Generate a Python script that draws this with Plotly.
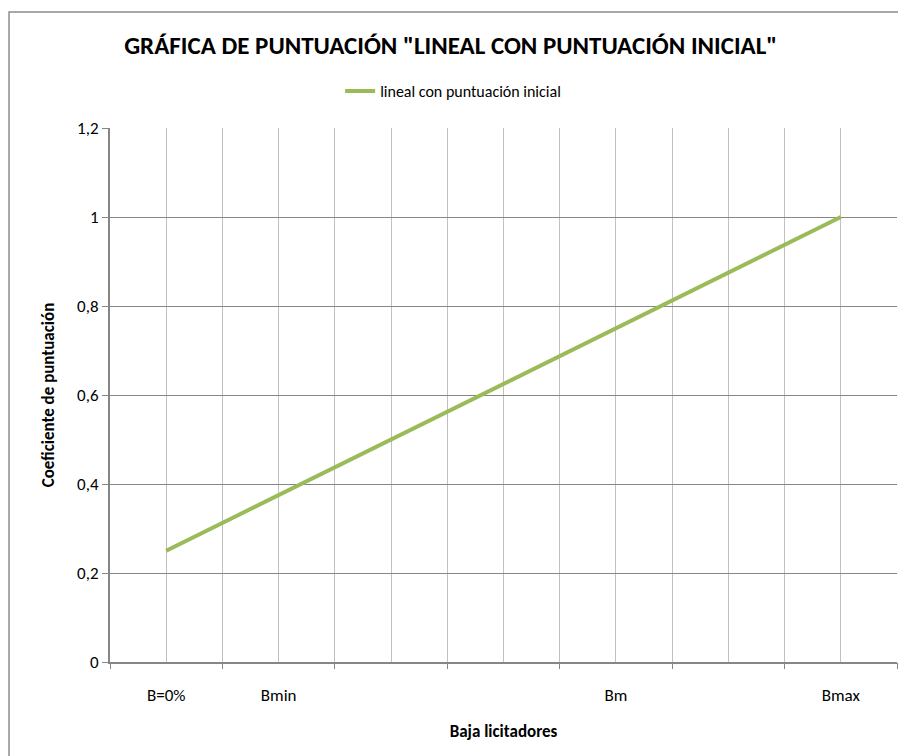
import plotly.graph_objects as go

# categorías del eje X (solo algunas con etiqueta)
categorias = ["B=0%", "", "Bmin", "", "", "", "", "", "Bm", "", "", "", "Bmax"]
coeficiente = [0.25, 0.3125, 0.375, 0.4375, 0.5, 0.5625, 0.625, 0.6875, 0.75, 0.8125, 0.875, 0.9375, 1.0]
y_ticks = [0, 0.2, 0.4, 0.6, 0.8, 1.0, 1.2]

font_main = "Carlito, Calibri, Lato, sans-serif"
pos = list(range(len(categorias)))

fig = go.Figure()
fig.add_trace(go.Scatter(x=pos, y=coeficiente, mode="lines", name="lineal con puntuación inicial",
                         line=dict(color="#9BBB59", width=4)))
# eje auxiliar solo para las marcas del eje X
fig.add_trace(go.Scatter(x=[pos[0]], y=[None], xaxis="x2", showlegend=False, hoverinfo="skip"))

all_pos = list(range(-1, len(categorias) + 1))
# la página tiene 8px de margen en el body: la figura ocupa 898x748
fig.update_layout(
    width=898, height=748,
    margin=dict(l=102, r=9, t=120, b=94),
    paper_bgcolor="white", plot_bgcolor="white",
    separators=",.",
    font=dict(family=font_main, size=17, color="#000000"),
    title=dict(text="<b>GRÁFICA DE PUNTUACIÓN \"LINEAL CON PUNTUACIÓN INICIAL\"</b>",
               x=0.493, xanchor="center", y=0.95, yanchor="middle",
               font=dict(size=25, family=font_main, color="#000000")),
    legend=dict(orientation="h", x=0.436, xanchor="center", y=1.069, yanchor="middle",
                font=dict(size=16), bgcolor="rgba(0,0,0,0)"),
    xaxis=dict(range=[-1, len(categorias)], tickvals=all_pos,
               ticktext=[""] + categorias + [""],
               ticks="outside", ticklen=17, tickcolor="rgba(0,0,0,0)",
               showgrid=True, gridcolor="#C0C0C0", gridwidth=1,
               showline=True, linecolor="#868686", linewidth=2, zeroline=False,
               title=dict(text="<b>Baja licitadores</b>", font=dict(size=17), standoff=20),
               tickfont=dict(size=17), automargin=False),
    xaxis2=dict(range=[-1, len(categorias)], overlaying="x", side="bottom",
                tickvals=all_pos[::2], ticktext=["" for _ in all_pos[::2]],
                ticks="outside", ticklen=6, tickcolor="#868686", tickwidth=1,
                showgrid=False, showline=False, zeroline=False, showticklabels=False),
    yaxis=dict(range=[0, 1.2], tickvals=y_ticks, ticks="outside", ticklen=6, tickcolor="#868686",
               showgrid=True, gridcolor="#868686", gridwidth=1,
               showline=True, linecolor="#868686", linewidth=2, zeroline=False,
               title=dict(text="<b>Coeficiente de puntuación</b>", font=dict(size=17), standoff=18),
               tickfont=dict(size=17), automargin=False),
)

# borde exterior del gráfico
fig.add_shape(type="rect", xref="paper", yref="paper",
              x0=-0.1283, y0=-0.3, x1=1.05, y1=1.2172,
              line=dict(color="#8C8C8C", width=1.5), layer="below")

fig.write_html("out.html")
